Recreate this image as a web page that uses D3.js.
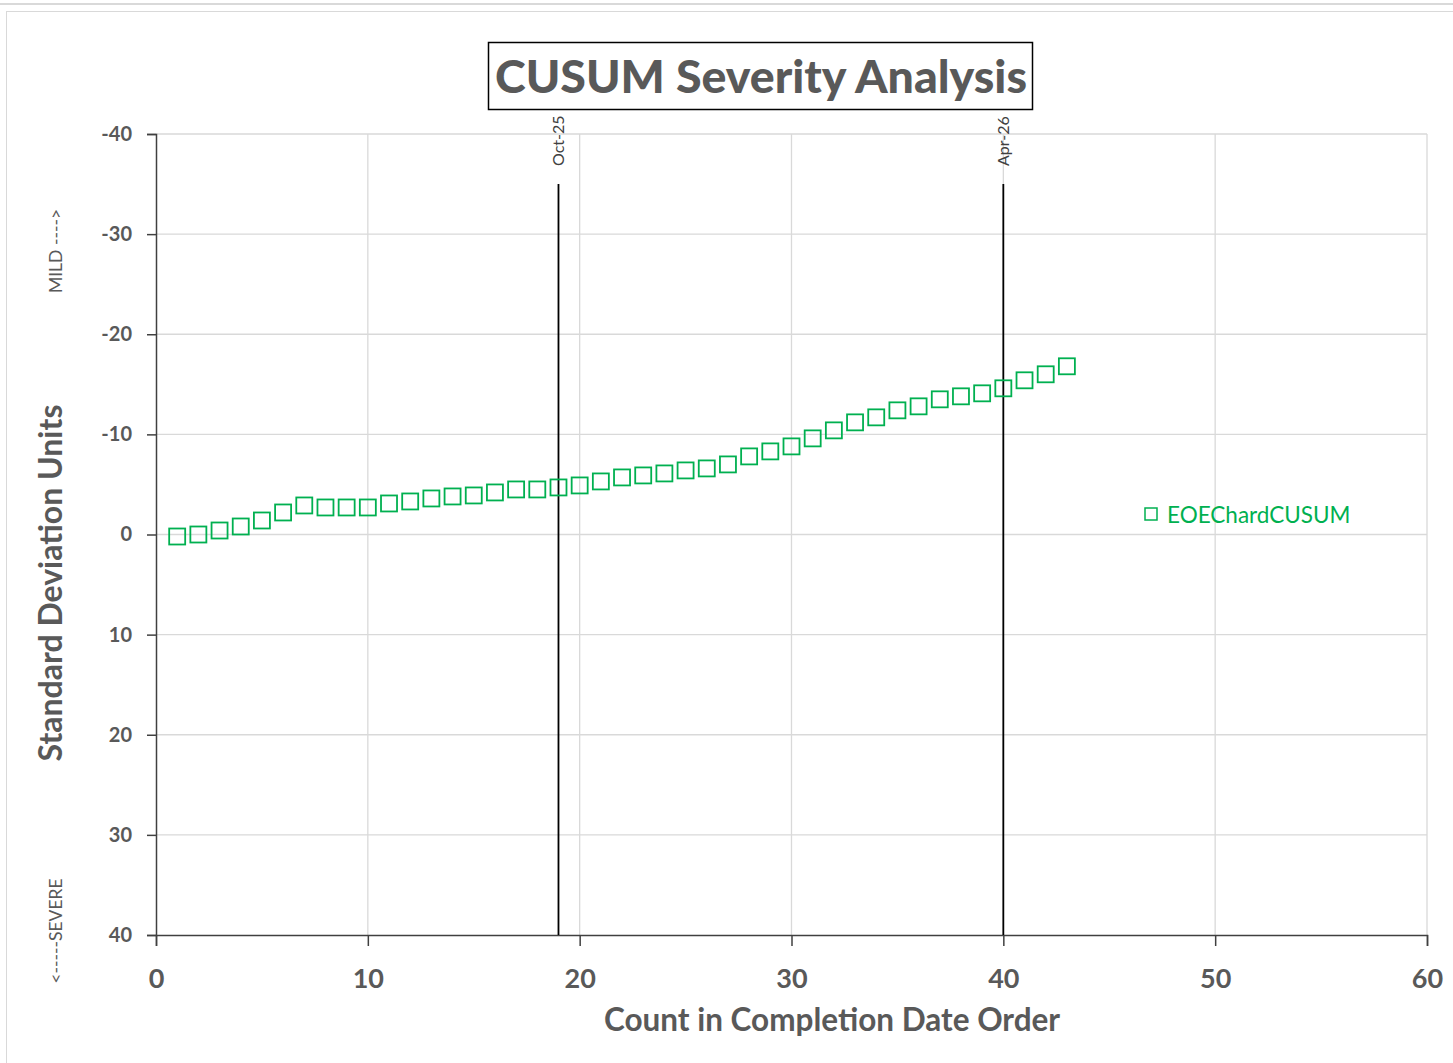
<!DOCTYPE html>
<html lang="en">
<head>
<meta charset="utf-8">
<title>CUSUM Severity Analysis</title>
<script src="https://d3js.org/d3.v7.min.js"></script>
<style>
  body { margin: 0; background: #fff; }
  svg { display: block; font-family: Lato, "Open Sans", sans-serif; }
</style>
</head>
<body>
<svg id="chart" width="1453" height="1063"></svg>
<script>
// data
const counts = d3.range(1, 44);
const cusum = [0.2, 0, -0.4, -0.8, -1.4, -2.2, -2.9, -2.7, -2.7, -2.7,
  -3.1, -3.3, -3.6, -3.8, -3.9, -4.2, -4.5, -4.5, -4.7, -4.9,
  -5.3, -5.7, -5.9, -6.1, -6.4, -6.6, -7.0, -7.8, -8.3, -8.8,
  -9.6, -10.4, -11.2, -11.7, -12.4, -12.8, -13.5, -13.8, -14.1, -14.6,
  -15.4, -16.0, -16.8];
const markerDates = ["Oct-25", "Apr-26"];
const markerCounts = [19, 40];
const xTicks = [0, 10, 20, 30, 40, 50, 60];
const yTicks = [-40, -30, -20, -10, 0, 10, 20, 30, 40];
const seriesName = "EOEChardCUSUM";

const green = "#00b050";
const gray = "#595959";

const svg = d3.select("#chart");

// outer frame bits
svg.append("line").attr("x1", 0).attr("x2", 1453).attr("y1", 4).attr("y2", 4)
  .attr("stroke", "#d9d9d9").attr("stroke-width", 2);
svg.append("rect").attr("x", 6.5).attr("y", 11.5).attr("width", 1460).attr("height", 1060)
  .attr("fill", "#fff").attr("stroke", "#d9d9d9");

const x = d3.scaleLinear().domain([0, 60]).range([156, 1427]);
const y = d3.scaleLinear().domain([-40, 40]).range([134, 935]);

// grid
const grid = svg.append("g");
grid.selectAll(".gx").data(xTicks.slice(1)).enter().append("line")
  .attr("x1", d => x(d)).attr("x2", d => x(d))
  .attr("y1", y(-40)).attr("y2", y(40))
  .attr("stroke", "#d9d9d9").attr("stroke-width", 1.3);
grid.selectAll(".gy").data(yTicks.slice(0, -1)).enter().append("line")
  .attr("x1", x(0)).attr("x2", x(60))
  .attr("y1", d => y(d)).attr("y2", d => y(d))
  .attr("stroke", "#d9d9d9").attr("stroke-width", 1.3);

// axes (plain hyphen minus like the original)
const fmt = d => String(d);
const yAxis = svg.append("g").attr("transform", `translate(${x(0)},0)`)
  .call(d3.axisLeft(y).tickValues(yTicks).tickFormat(fmt).tickSize(9).tickPadding(15));
const xAxis = svg.append("g").attr("transform", `translate(0,${y(40)})`)
  .call(d3.axisBottom(x).tickValues(xTicks).tickFormat(fmt).tickSize(11).tickPadding(23));
[yAxis, xAxis].forEach(a => {
  a.select(".domain").attr("stroke", "#404040").attr("stroke-width", 1.5);
  a.selectAll(".tick line").attr("stroke", "#404040").attr("stroke-width", 1.5);
  a.selectAll("text").attr("fill", gray).attr("font-family", "Lato, sans-serif")
    .attr("font-weight", "bold");
});
yAxis.selectAll("text").attr("font-size", 20);
xAxis.selectAll("text").attr("font-size", 27);

// vertical date markers
const markers = svg.append("g").selectAll("g").data(markerCounts).enter().append("g");
markers.append("line")
  .attr("x1", d => x(d)).attr("x2", d => x(d))
  .attr("y1", y(-35)).attr("y2", y(40))
  .attr("stroke", "#000").attr("stroke-width", 1.8);
markers.append("text")
  .attr("transform", d => `translate(${x(d) + 6},166) rotate(-90)`)
  .attr("font-size", 16).attr("fill", "#404040")
  .text((d, i) => markerDates[i]);

// points
svg.append("g").selectAll("rect").data(cusum).enter().append("rect")
  .attr("x", (d, i) => x(counts[i]) - 8)
  .attr("y", d => y(d) - 8)
  .attr("width", 16).attr("height", 16)
  .attr("fill", "none").attr("stroke", green).attr("stroke-width", 1.8);

// legend
svg.append("rect").attr("x", 1145).attr("y", 508).attr("width", 12).attr("height", 12)
  .attr("fill", "none").attr("stroke", green).attr("stroke-width", 1.5);
svg.append("text").attr("x", 1167).attr("y", 523)
  .attr("font-size", 22.5).attr("fill", green).text(seriesName);

// title
svg.append("rect").attr("x", 488.5).attr("y", 42.5).attr("width", 544).attr("height", 67)
  .attr("fill", "#fff").attr("stroke", "#000").attr("stroke-width", 1.5);
svg.append("text").attr("x", 761).attr("y", 93).attr("text-anchor", "middle")
  .attr("font-size", 46.5).attr("font-weight", 900).attr("fill", gray)
  .text("CUSUM Severity Analysis");

// axis titles
svg.append("text").attr("x", 832).attr("y", 1031).attr("text-anchor", "middle")
  .attr("font-size", 31.5).attr("font-weight", "bold").attr("fill", gray)
  .text("Count in Completion Date Order");
svg.append("text").attr("transform", "translate(62,583) rotate(-90)")
  .attr("text-anchor", "middle")
  .attr("font-size", 32).attr("font-weight", "bold").attr("fill", gray)
  .text("Standard Deviation Units");

// severity hints
svg.append("text").attr("transform", "translate(62,251) rotate(-90)")
  .attr("text-anchor", "middle").attr("font-size", 17.5).attr("fill", gray)
  .text("MILD ---->");
svg.append("text").attr("transform", "translate(62,931) rotate(-90)")
  .attr("text-anchor", "middle").attr("font-size", 17.5).attr("fill", gray)
  .text("<-----SEVERE");
</script>
</body>
</html>
